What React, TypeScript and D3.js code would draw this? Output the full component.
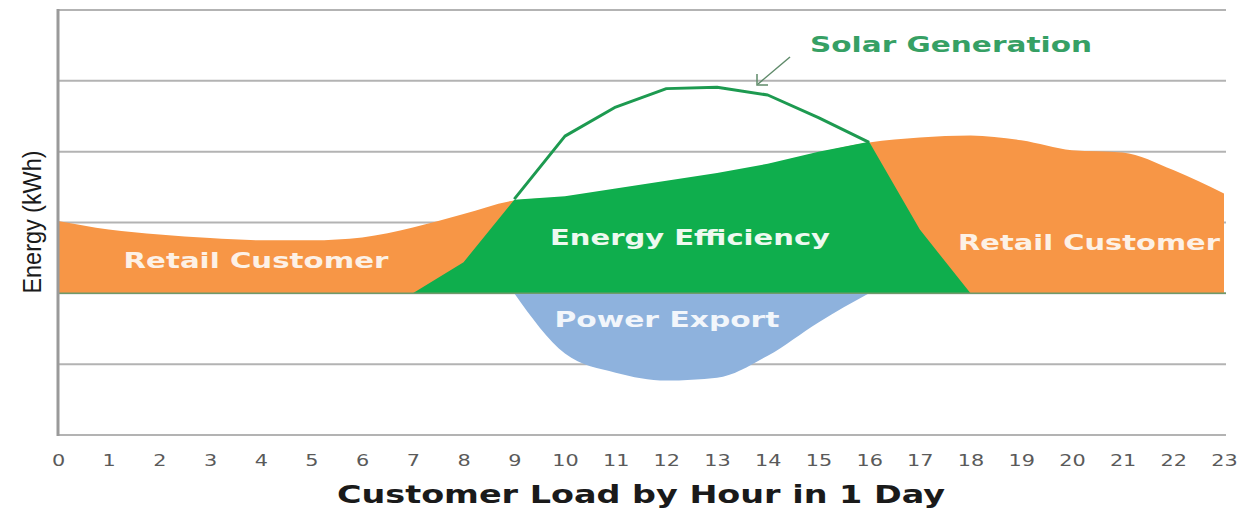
import React, { useEffect, useRef } from 'react';
import * as d3 from 'd3';

// hours of the day shown on the x axis
const hours = [0, 1, 2, 3, 4, 5, 6, 7, 8, 9, 10, 11, 12, 13, 14, 15, 16, 17, 18, 19, 20, 21, 22, 23];
// total retail customer load (orange), in grid units
const retailLoad = [1.02, 0.9, 0.83, 0.78, 0.75, 0.75, 0.79, 0.93, 1.12, 1.31, 1.36, 1.47, 1.58, 1.69, 1.82, 1.99, 2.13, 2.2, 2.23, 2.16, 2.02, 1.99, 1.74, 1.41];
// energy efficiency (green area)
const effHours = [7, 8, 9, 10, 11, 12, 13, 14, 15, 16, 17, 18];
const efficiency = [0, 0.44, 1.32, 1.37, 1.48, 1.59, 1.7, 1.83, 2.0, 2.14, 0.9, 0];
// solar generation line, only the part above the load
const solarHours = [9, 10, 11, 12, 13, 14, 15, 16];
const solarGen = [1.33, 2.22, 2.63, 2.89, 2.91, 2.8, 2.48, 2.13];
// power exported to the grid (blue, below zero)
const exportHours = [9, 10, 11, 12, 13, 14, 15, 16];
const powerExport = [0, -0.85, -1.12, -1.23, -1.19, -0.88, -0.41, 0];
const gridLines = [-2, -1, 0, 1, 2, 3, 4];

type Pt = { h: number; v: number };
const zip = (hs: number[], vs: number[]): Pt[] => hs.map((h, i) => ({ h, v: vs[i] }));

const W = 1245;
const H = 512;

const App = () => {
  const svgRef = useRef<SVGSVGElement | null>(null);

  useEffect(() => {
    const svg = d3.select(svgRef.current);
    svg.selectAll('*').remove();

    const x = d3.scaleLinear().domain([0, 23]).range([58, 1224]);
    const y = d3.scaleLinear().domain([-2, 4]).range([435, 10]);

    // gridlines
    svg
      .append('g')
      .selectAll('line')
      .data(gridLines)
      .enter()
      .append('line')
      .attr('x1', x(0))
      .attr('x2', 1226)
      .attr('y1', (d) => y(d))
      .attr('y2', (d) => y(d))
      .attr('stroke', '#b3b3b3')
      .attr('stroke-width', 2);

    const area = (curve: d3.CurveFactory) =>
      d3
        .area<Pt>()
        .x((d) => x(d.h))
        .y0(y(0))
        .y1((d) => y(d.v))
        .curve(curve);

    svg.append('path').datum(zip(hours, retailLoad)).attr('d', area(d3.curveMonotoneX)).attr('fill', '#f79646');
    svg.append('path').datum(zip(effHours, efficiency)).attr('d', area(d3.curveLinear)).attr('fill', '#0fae4d');
    svg.append('path').datum(zip(exportHours, powerExport)).attr('d', area(d3.curveMonotoneX)).attr('fill', '#8eb2dd');

    // baseline under the areas
    svg
      .append('line')
      .attr('x1', x(0))
      .attr('x2', 1226)
      .attr('y1', y(0))
      .attr('y2', y(0))
      .attr('stroke', '#6f9a6a')
      .attr('stroke-width', 1.5);

    const line = d3
      .line<Pt>()
      .x((d) => x(d.h))
      .y((d) => y(d.v))
      .curve(d3.curveLinear);

    svg
      .append('path')
      .datum(zip(solarHours, solarGen))
      .attr('d', line)
      .attr('fill', 'none')
      .attr('stroke', '#1d9a50')
      .attr('stroke-width', 3)
      .attr('stroke-linejoin', 'round');

    // y axis line
    svg
      .append('line')
      .attr('x1', x(0))
      .attr('x2', x(0))
      .attr('y1', y(4) - 1)
      .attr('y2', y(-2) + 1)
      .attr('stroke', '#9a9a9a')
      .attr('stroke-width', 3);

    // x axis tick labels
    const xAxis = d3.axisBottom(x).tickValues(hours).tickFormat(d3.format('d')).tickSize(0).tickPadding(20);
    const gx = svg.append('g').attr('transform', `translate(0,${y(-2)})`).call(xAxis);
    gx.select('.domain').remove();
    gx.selectAll('text')
      .attr('font-family', 'DejaVu Sans, sans-serif')
      .attr('font-size', 16)
      .attr('fill', '#5a5a5a')
      .attr('transform', 'scale(1.3,1)');

    const label = (txt: string, cx: number, by: number, len: number, size: number, fill: string) =>
      svg
        .append('text')
        .attr('x', cx)
        .attr('y', by)
        .attr('text-anchor', 'middle')
        .attr('font-family', 'DejaVu Sans, Verdana, sans-serif')
        .attr('font-weight', 'bold')
        .attr('font-size', size)
        .attr('fill', fill)
        .attr('textLength', len)
        .attr('lengthAdjust', 'spacingAndGlyphs')
        .text(txt);

    label('Retail Customer', 256, 268, 265, 22, '#fdf1e6');
    label('Energy Efficiency', 690, 245, 280, 22, '#eef9f0');
    label('Retail Customer', 1089, 250, 262, 22, '#fdf1e6');
    label('Power Export', 667, 327, 225, 22, '#f2f6fb');
    label('Solar Generation', 951, 52, 282, 22, '#36a064');
    label('Customer Load by Hour in 1 Day', 641, 503, 608, 24, '#1a1a1a');

    // arrow pointing to the solar curve
    svg
      .append('line')
      .attr('x1', 790)
      .attr('y1', 57)
      .attr('x2', 758)
      .attr('y2', 84)
      .attr('stroke', '#5f8a6a')
      .attr('stroke-width', 1.5);
    svg
      .append('path')
      .attr('d', 'M757,74 L757,85 L768,85')
      .attr('fill', 'none')
      .attr('stroke', '#5f8a6a')
      .attr('stroke-width', 1.5);

    // y axis title
    svg
      .append('text')
      .attr('transform', 'translate(41,222) rotate(-90)')
      .attr('text-anchor', 'middle')
      .attr('font-family', 'Liberation Sans Narrow, Liberation Sans, sans-serif')
      .attr('font-size', 25)
      .attr('fill', '#1a1a1a')
      .attr('textLength', 143)
      .attr('lengthAdjust', 'spacingAndGlyphs')
      .text('Energy (kWh)');
  }, []);

  return (
    <svg
      ref={svgRef}
      width={W}
      height={H}
      style={{ position: 'absolute', left: 0, top: 0, background: '#fff' }}
    />
  );
};

export default App;
